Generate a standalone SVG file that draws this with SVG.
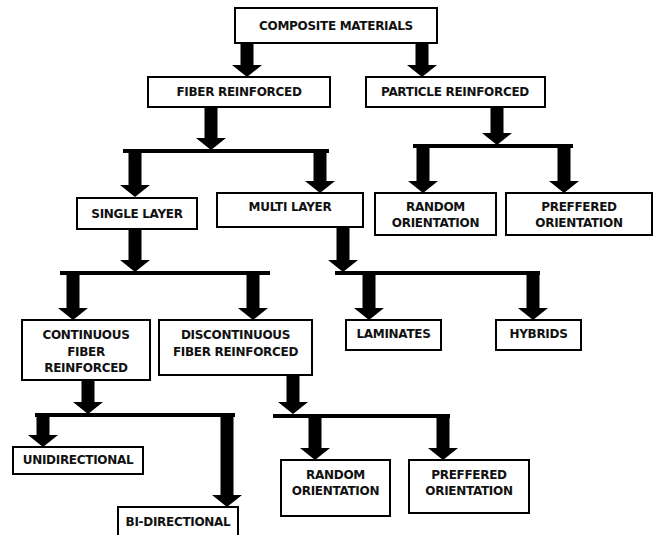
<svg xmlns="http://www.w3.org/2000/svg" width="656" height="535" viewBox="0 0 656 535">
<style>
.box{fill:#fff;stroke:#000;stroke-width:2}
.t{font-family:"DejaVu Sans","Liberation Sans",sans-serif;font-weight:bold;font-size:12px;fill:#111;text-anchor:middle;letter-spacing:-0.3px}
.ar{fill:#000}
.bar{stroke:#000;stroke-width:4;fill:none}
</style>
<rect width="656" height="535" fill="#fff"/>
<g id="connectors">
<path class="ar" d="M240.5,43 H253.5 V65 H262 L247,77 L232,65 H240.5 Z"/>
<path class="ar" d="M415.5,43 H428.5 V65 H437 L422,77 L407,65 H415.5 Z"/>
<path class="ar" d="M204.5,107 H217.5 V138 H226 L211,150 L196,138 H204.5 Z"/>
<line class="bar" x1="123" y1="151" x2="329" y2="151"/>
<path class="ar" d="M128.5,151 H141.5 V185 H150 L135,197 L120,185 H128.5 Z"/>
<path class="ar" d="M313.5,151 H326.5 V181 H335 L320,193 L305,181 H313.5 Z"/>
<path class="ar" d="M490.5,107 H503.5 V133 H512 L497,145 L482,133 H490.5 Z"/>
<line class="bar" x1="413" y1="146" x2="573" y2="146"/>
<path class="ar" d="M416.5,146 H429.5 V181 H438 L423,193 L408,181 H416.5 Z"/>
<path class="ar" d="M557.5,146 H570.5 V181 H579 L564,193 L549,181 H557.5 Z"/>
<path class="ar" d="M128.5,229 H141.5 V260 H150 L135,272 L120,260 H128.5 Z"/>
<line class="bar" x1="60" y1="273" x2="270" y2="273"/>
<path class="ar" d="M66.5,273 H79.5 V308 H88 L73,320 L58,308 H66.5 Z"/>
<path class="ar" d="M246.5,273 H259.5 V308 H268 L253,320 L238,308 H246.5 Z"/>
<path class="ar" d="M336.5,227 H349.5 V260 H358 L343,272 L328,260 H336.5 Z"/>
<line class="bar" x1="335" y1="273" x2="540" y2="273"/>
<path class="ar" d="M362.5,273 H375.5 V308 H384 L369,320 L354,308 H362.5 Z"/>
<path class="ar" d="M526.5,273 H539.5 V308 H548 L533,320 L518,308 H526.5 Z"/>
<path class="ar" d="M81.5,380 H94.5 V402 H103 L88,414 L73,402 H81.5 Z"/>
<line class="bar" x1="35" y1="415" x2="235" y2="415"/>
<path class="ar" d="M36.5,415 H49.5 V435 H58 L43,447 L28,435 H36.5 Z"/>
<path class="ar" d="M220.5,415 H233.5 V495 H242 L227,507 L212,495 H220.5 Z"/>
<path class="ar" d="M286.5,375 H299.5 V402 H308 L293,414 L278,402 H286.5 Z"/>
<line class="bar" x1="273" y1="416" x2="450" y2="416"/>
<path class="ar" d="M308.5,416 H321.5 V448 H330 L315,460 L300,448 H308.5 Z"/>
<path class="ar" d="M436.5,416 H449.5 V448 H458 L443,460 L428,448 H436.5 Z"/>
</g>
<g id="composite"><rect class="box" x="235" y="8" width="202" height="35"/><text class="t" x="336" y="30">COMPOSITE MATERIALS</text></g>
<g id="fiber"><rect class="box" x="148" y="77" width="182" height="30"/><text class="t" x="239" y="96">FIBER REINFORCED</text></g>
<g id="particle"><rect class="box" x="366" y="77" width="179" height="30"/><text class="t" x="455" y="96">PARTICLE REINFORCED</text></g>
<g id="single"><rect class="box" x="77" y="198" width="120" height="31"/><text class="t" x="137" y="218">SINGLE LAYER</text></g>
<g id="multi"><rect class="box" x="217" y="193" width="146" height="34"/><text class="t" x="290" y="211">MULTI LAYER</text></g>
<g id="random1"><rect class="box" x="375" y="193" width="121" height="42"/><text class="t" x="435.5" y="211">RANDOM</text><text class="t" x="435.5" y="227">ORIENTATION</text></g>
<g id="preffered1"><rect class="box" x="506" y="193" width="146" height="42"/><text class="t" x="579" y="211">PREFFERED</text><text class="t" x="579" y="227">ORIENTATION</text></g>
<g id="continuous"><rect class="box" x="22" y="320" width="128" height="60"/><text class="t" x="86" y="339">CONTINUOUS</text><text class="t" x="86" y="356">FIBER</text><text class="t" x="86" y="372">REINFORCED</text></g>
<g id="discontinuous"><rect class="box" x="159" y="320" width="153" height="55"/><text class="t" x="235.5" y="339">DISCONTINUOUS</text><text class="t" x="235.5" y="356">FIBER REINFORCED</text></g>
<g id="laminates"><rect class="box" x="346" y="320" width="95" height="30"/><text class="t" x="393.5" y="338">LAMINATES</text></g>
<g id="hybrids"><rect class="box" x="496" y="320" width="85" height="30"/><text class="t" x="538.5" y="338">HYBRIDS</text></g>
<g id="unidirectional"><rect class="box" x="13" y="447" width="130" height="27"/><text class="t" x="78" y="464">UNIDIRECTIONAL</text></g>
<g id="bidirectional"><rect class="box" x="118" y="507" width="120" height="35"/><text class="t" x="178" y="526">BI-DIRECTIONAL</text></g>
<g id="random2"><rect class="box" x="281" y="460" width="109" height="56"/><text class="t" x="335.5" y="479">RANDOM</text><text class="t" x="335.5" y="495">ORIENTATION</text></g>
<g id="preffered2"><rect class="box" x="409" y="460" width="120" height="53"/><text class="t" x="469" y="479">PREFFERED</text><text class="t" x="469" y="495">ORIENTATION</text></g>
</svg>
